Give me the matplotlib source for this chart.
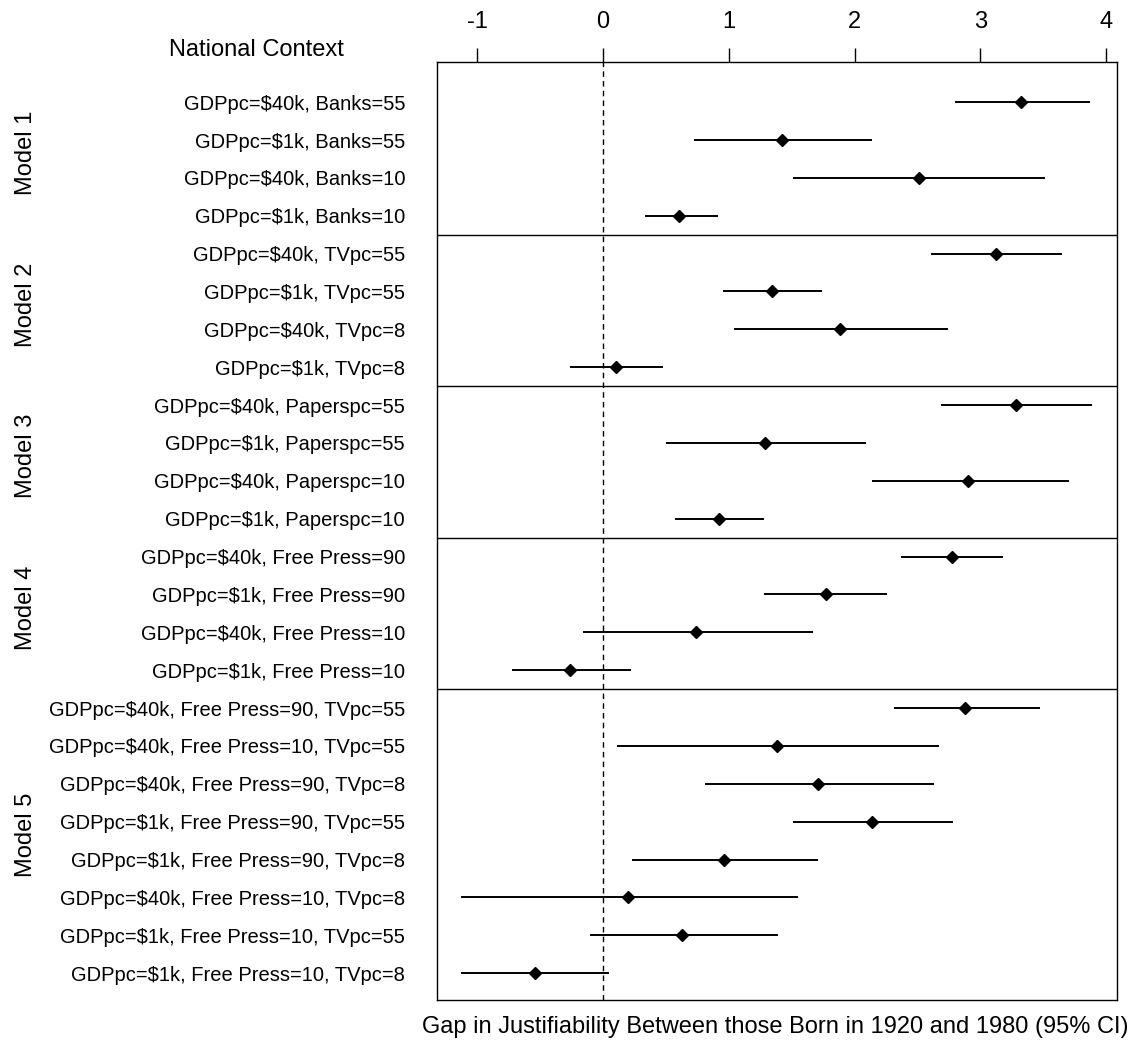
import matplotlib
matplotlib.use("Agg")
import matplotlib.pyplot as plt
import numpy as np

plt.rcParams["font.family"] = ["Liberation Sans", "DejaVu Sans"]
plt.rcParams["axes.unicode_minus"] = False

# models and their row labels (top to bottom)
models = ["Model 1", "Model 2", "Model 3", "Model 4", "Model 5"]
labels = [
    ["GDPpc=$40k, Banks=55", "GDPpc=$1k, Banks=55",
     "GDPpc=$40k, Banks=10", "GDPpc=$1k, Banks=10"],
    ["GDPpc=$40k, TVpc=55", "GDPpc=$1k, TVpc=55",
     "GDPpc=$40k, TVpc=8", "GDPpc=$1k, TVpc=8"],
    ["GDPpc=$40k, Paperspc=55", "GDPpc=$1k, Paperspc=55",
     "GDPpc=$40k, Paperspc=10", "GDPpc=$1k, Paperspc=10"],
    ["GDPpc=$40k, Free Press=90", "GDPpc=$1k, Free Press=90",
     "GDPpc=$40k, Free Press=10", "GDPpc=$1k, Free Press=10"],
    ["GDPpc=$40k, Free Press=90, TVpc=55", "GDPpc=$40k, Free Press=10, TVpc=55",
     "GDPpc=$40k, Free Press=90, TVpc=8", "GDPpc=$1k, Free Press=90, TVpc=55",
     "GDPpc=$1k, Free Press=90, TVpc=8", "GDPpc=$40k, Free Press=10, TVpc=8",
     "GDPpc=$1k, Free Press=10, TVpc=55", "GDPpc=$1k, Free Press=10, TVpc=8"],
]

# estimates and 95% CI
est = [
    [3.32, 1.42, 2.51, 0.60],
    [3.12, 1.34, 1.88, 0.10],
    [3.28, 1.29, 2.90, 0.92],
    [2.77, 1.77, 0.74, -0.26],
    [2.88, 1.38, 1.71, 2.14, 0.96, 0.20, 0.63, -0.54],
]
lo = [
    [2.80, 0.72, 1.51, 0.33],
    [2.61, 0.95, 1.04, -0.26],
    [2.69, 0.50, 2.14, 0.57],
    [2.37, 1.28, -0.16, -0.72],
    [2.31, 0.11, 0.81, 1.51, 0.23, -1.13, -0.10, -1.13],
]
hi = [
    [3.87, 2.14, 3.51, 0.91],
    [3.65, 1.74, 2.74, 0.48],
    [3.89, 2.09, 3.70, 1.28],
    [3.18, 2.26, 1.67, 0.22],
    [3.47, 2.67, 2.63, 2.78, 1.71, 1.55, 1.39, 0.05],
]

fs = 14.5     # row labels
fs_big = 17   # titles, ticks, model names
fig = plt.figure(figsize=(11.4, 10.42), dpi=100)
ax = fig.add_axes([437 / 1140, 1 - 1000 / 1042, 680 / 1140, 938 / 1042])

all_labels = []
pos = 0
for m, name in enumerate(models):
    n = len(labels[m])
    ys = np.arange(pos, pos + n)
    ax.hlines(ys, lo[m], hi[m], color="black", lw=1.4)
    ax.plot(est[m], ys, "D", color="black", markersize=6.3)
    ax.text(-0.605, pos + (n - 1) / 2 - 0.15, name, transform=ax.get_yaxis_transform(),
            rotation=90, ha="center", va="center", fontsize=fs_big)
    all_labels += labels[m]
    pos += n
    if m < len(models) - 1:
        ax.axhline(pos - 0.5, color="black", lw=1)

ax.axvline(0, color="black", lw=1, linestyle=(0, (4, 3)))

ax.set_xlim(-1.32, 4.085)
ax.set_ylim(pos - 1 + 0.71, -1.06)
ax.set_yticks(np.arange(pos))
ax.set_yticklabels(all_labels, fontsize=fs)
ax.tick_params(axis="y", length=0, pad=23)
ax.xaxis.tick_top()
ax.set_xticks([-1, 0, 1, 2, 3, 4])
ax.tick_params(axis="x", length=10, width=1, pad=11, labelsize=fs_big)
for s in ax.spines.values():
    s.set_linewidth(1)

ax.text(-0.265, 1.0128, "National Context", transform=ax.transAxes,
        ha="center", va="center", fontsize=fs_big)
ax.text(0.497, -0.029, "Gap in Justifiability Between those Born in 1920 and 1980 (95% CI)",
        transform=ax.transAxes, ha="center", va="center", fontsize=fs_big)

fig.savefig("out.png", dpi=100)
